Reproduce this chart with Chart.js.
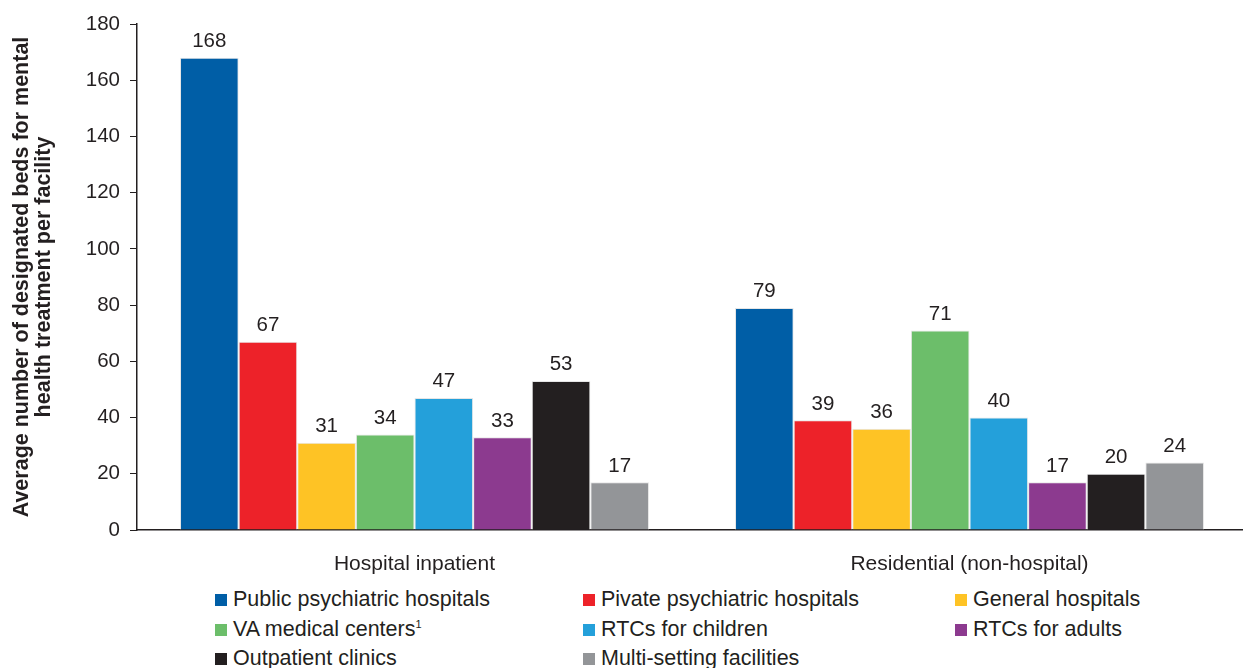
<!DOCTYPE html>
<html>
<head>
<meta charset="utf-8">
<script src="https://cdn.jsdelivr.net/npm/chart.js@4"></script>
<style>
  body { margin: 0; background: #fff; font-family: "Liberation Sans", Arial, sans-serif; overflow: hidden; }
  #wrap { position: relative; width: 1247px; height: 580px; }
  #legend { position: absolute; left: 0; top: 587px; width: 1243px; }
  .item { position: absolute; display: flex; align-items: center; font-size: 21.5px; color: #231f20; white-space: nowrap; }
  .box { width: 12px; height: 12px; margin-right: 6px; }
  sup { font-size: 11px; }
</style>
</head>
<body>
<div id="wrap"><canvas id="chart"></canvas></div>
<div id="legend"></div>
<script>
const categories = ["Hospital inpatient", "Residential (non-hospital)"];
const seriesNames = ["Public psychiatric hospitals", "Pivate psychiatric hospitals", "General hospitals",
  "VA medical centers", "RTCs for children", "RTCs for adults", "Outpatient clinics", "Multi-setting facilities"];
const publicPsych = [168, 79];
const privatePsych = [67, 39];
const generalHosp = [31, 36];
const vaCenters = [34, 71];
const rtcChildren = [47, 40];
const rtcAdults = [33, 17];
const outpatient = [53, 20];
const multiSetting = [17, 24];
const yTicks = [0, 20, 40, 60, 80, 100, 120, 140, 160, 180];

const values = [publicPsych, privatePsych, generalHosp, vaCenters, rtcChildren, rtcAdults, outpatient, multiSetting];
const colors = ["#005ea6", "#ed2229", "#fec325", "#6cbe6a", "#24a0da", "#8c3a8f", "#231f20", "#939598"];
const legendPos = [[215, 0], [583, 0], [955, 0], [215, 30], [583, 30], [955, 30], [215, 59], [583, 59]];

// value labels above bars
const barLabels = {
  id: "barLabels",
  afterDatasetsDraw(chart) {
    const ctx = chart.ctx;
    ctx.save();
    ctx.font = "20.5px 'Liberation Sans', Arial, sans-serif";
    ctx.fillStyle = "#231f20";
    ctx.textAlign = "center";
    ctx.textBaseline = "bottom";
    chart.data.datasets.forEach((ds, i) => {
      chart.getDatasetMeta(i).data.forEach((bar, j) => {
        ctx.fillText(ds.data[j], bar.x, bar.y - 6);
      });
    });
    ctx.restore();
  }
};

new Chart(document.getElementById("chart"), {
  type: "bar",
  data: {
    labels: categories,
    datasets: seriesNames.map((name, i) => ({
      label: name,
      data: values[i],
      backgroundColor: colors[i],
      borderColor: "#e6e6e6",
      borderWidth: 1,
      barPercentage: 1,
      categoryPercentage: 0.845
    }))
  },
  options: {
    responsive: true,
    maintainAspectRatio: false,
    animation: false,
    layout: { padding: { top: 24, right: 0, left: 0, bottom: 0 } },
    plugins: { legend: { display: false }, tooltip: { enabled: false } },
    scales: {
      x: {
        grid: { display: false },
        border: { color: "#231f20", width: 1.5 },
        ticks: { color: "#231f20", padding: 14, font: { family: "'Liberation Sans', Arial, sans-serif", size: 21 } },
        afterFit(scale) { scale.height = 50; }
      },
      y: {
        min: 0,
        max: 180,
        afterBuildTicks(scale) { scale.ticks = yTicks.map(v => ({ value: v })); },
        grid: { drawOnChartArea: false, tickLength: 7, color: "#231f20", tickWidth: 1 },
        border: { color: "#231f20", width: 1.5 },
        ticks: { color: "#231f20", padding: 10, font: { family: "'Liberation Sans', Arial, sans-serif", size: 20.5 } },
        title: {
          display: true,
          text: ["Average number of designated beds for mental", "health treatment per facility"],
          color: "#231f20",
          padding: { top: 11, bottom: 0 },
          font: { family: "'Liberation Sans', Arial, sans-serif", size: 21.5, weight: "bold", lineHeight: 1.02 }
        },
        afterFit(scale) { scale.width = 137; }
      }
    }
  },
  plugins: [barLabels]
});

const legend = document.getElementById("legend");
seriesNames.forEach((name, i) => {
  const div = document.createElement("div");
  div.className = "item";
  div.style.left = legendPos[i][0] + "px";
  div.style.top = legendPos[i][1] + "px";
  div.innerHTML = `<span class="box" style="background:${colors[i]}"></span><span>${name}${i === 3 ? "<sup>1</sup>" : ""}</span>`;
  legend.appendChild(div);
});
</script>
</body>
</html>
